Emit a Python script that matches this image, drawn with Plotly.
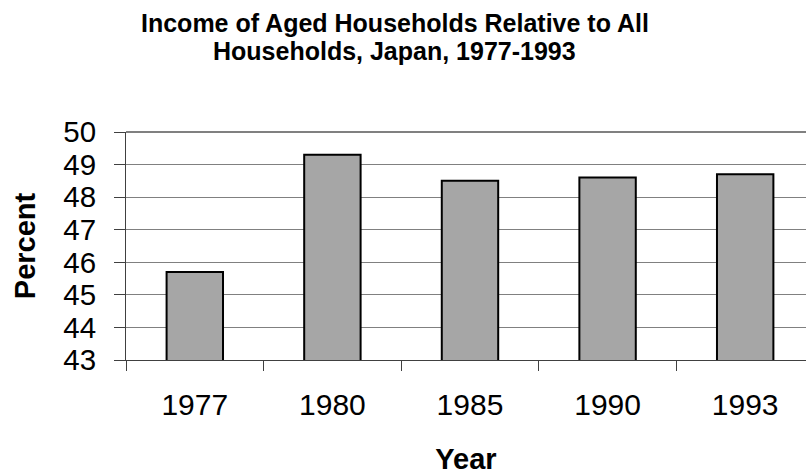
import plotly.graph_objects as go

# Relative income of aged households, Japan
years = ["1977", "1980", "1985", "1990", "1993"]
percent = [45.7, 49.3, 48.5, 48.6, 48.7]

y_ticks = [43, 44, 45, 46, 47, 48, 49, 50]

title_lines = [
    "Income of Aged Households Relative to All",
    "Households, Japan, 1977-1993",
]

FONT = "Liberation Sans, Arial, sans-serif"

fig = go.Figure(
    go.Bar(
        x=years,
        y=percent,
        marker=dict(color="#a6a6a6", line=dict(color="#000000", width=2)),
        width=0.41,
    )
)

fig.update_layout(
    width=806,
    height=475,
    margin=dict(l=126, r=0, t=132, b=115),
    paper_bgcolor="white",
    plot_bgcolor="white",
    showlegend=False,
    font=dict(family=FONT, color="#000000"),
)

# two-line heading, each line placed on its own so the leading stays tight
for line, ypos in zip(title_lines, [1.4768, 1.354]):
    fig.add_annotation(
        text=line,
        xref="paper",
        yref="paper",
        x=(394.5 - 126) / 680,
        y=ypos,
        xanchor="center",
        yanchor="middle",
        showarrow=False,
        font=dict(family=FONT, size=25, color="#000000", weight="bold"),
    )

fig.update_xaxes(
    type="category",
    range=[-0.5, 4.442],
    tickson="boundaries",
    ticks="outside",
    ticklen=10,
    tickwidth=1,
    tickcolor="#404040",
    showline=True,
    linecolor="#404040",
    linewidth=1,
    showgrid=False,
    tickfont=dict(family=FONT, size=30, color="#000000"),
    ticklabelstandoff=18,
    title=dict(
        text="Year",
        font=dict(family=FONT, size=29, color="#000000", weight="bold"),
        standoff=28,
    ),
)

fig.update_yaxes(
    range=[43, 50],
    tickvals=y_ticks,
    ticks="outside",
    ticklen=11,
    tickwidth=1,
    tickcolor="#404040",
    showline=True,
    linecolor="#404040",
    linewidth=1,
    showgrid=True,
    gridcolor="#808080",
    gridwidth=1,
    zeroline=False,
    tickfont=dict(family=FONT, size=29.5, color="#000000"),
    ticklabelstandoff=12,
    title=dict(
        text="Percent",
        font=dict(family=FONT, size=29, color="#000000", weight="bold"),
        standoff=19,
    ),
)

# heavier rule along the top of the plot area
fig.add_shape(
    type="line",
    xref="paper",
    yref="paper",
    x0=0,
    x1=1,
    y0=1,
    y1=1,
    line=dict(color="#808080", width=2),
)

fig.write_html("out.html")
